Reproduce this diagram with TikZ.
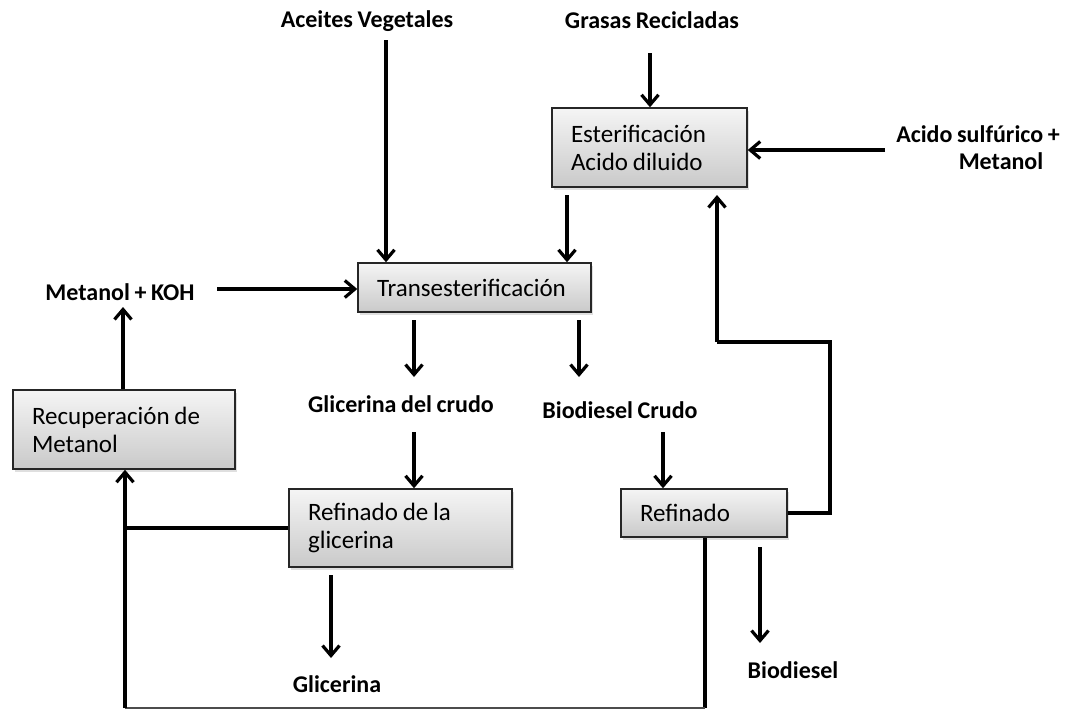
\documentclass[tikz,border=0pt]{standalone}
\usepackage{fontspec}
\setmainfont{Carlito}[WordSpace=0.85]
\usetikzlibrary{shadows,arrows.meta}
\begin{document}
\begin{tikzpicture}[x=1pt,y=-1pt,
  proc/.style={draw=black!85, line width=1.5pt, rectangle,
    top color=gray!8, bottom color=gray!42,
    drop shadow={shadow xshift=2pt, shadow yshift=-3pt, opacity=0.25},
    inner xsep=19pt, inner ysep=0pt, align=flush left,
    font=\fontsize{25}{28}\selectfont},
  lbl/.style={font=\fontsize{24}{28}\selectfont\bfseries, inner sep=0pt},
  flow/.style={line width=3.2pt, -{Straight Barb[length=10pt,width=17pt]}},
  pipe/.style={line width=3.2pt}
]
\useasboundingbox (0,0) rectangle (1075,710);

% process boxes
\node[proc, minimum width=195pt, text width=157pt, minimum height=79pt] (est) at (649.5,147.5) {Esterificación\\Acido diluido};
\node[proc, minimum width=233pt, text width=195pt, minimum height=49pt] (tra) at (474.5,287.5) {Transesterificación};
\node[proc, minimum width=222pt, text width=184pt, minimum height=79pt] (rec) at (124,429.5) {Recuperación de\\Metanol};
\node[proc, minimum width=223pt, text width=185pt, minimum height=78pt] (rgl) at (400.5,528) {Refinado de la\\glicerina};
\node[proc, minimum width=166pt, text width=128pt, minimum height=48pt] (ref) at (704,513) {Refinado};

% stream labels
\node[lbl] (av) at (367,21) {Aceites Vegetales};
\node[lbl] (gr) at (652,20) {Grasas Recicladas};
\node[lbl] (as1) at (978,134) {Acido sulfúrico +};
\node[lbl] (as2) at (1001,161) {Metanol};
\node[lbl] (mk) at (120,292) {Metanol + KOH};
\node[lbl] (gc) at (401,404) {Glicerina del crudo};
\node[lbl] (bc) at (620,410) {Biodiesel Crudo};
\node[lbl] (gl) at (337,684) {Glicerina};
\node[lbl] (bd) at (793,670) {Biodiesel};

% free ends of the connectors
\coordinate (avs) at (386,40);
\coordinate (grs) at (650,53);
\coordinate (ass) at (885,150);
\coordinate (mks) at (217,289);
\coordinate (ests) at (567,195);
\coordinate (esti) at (717,195);
\coordinate (tgs) at (414,320);
\coordinate (tge) at (414,377);
\coordinate (tbs) at (579,320);
\coordinate (tbe) at (579,377);
\coordinate (gcs) at (414,432);
\coordinate (bcs) at (663,432);
\coordinate (rgs) at (331,575);
\coordinate (rge) at (331,658);
\coordinate (rbs) at (760,547);
\coordinate (rbe) at (760,643);
\coordinate (rke) at (123,307);
\coordinate (bl) at (125,708);
\coordinate (br) at (705,708);
\coordinate (rr) at (830,513);
\coordinate (rt) at (830,342);
\coordinate (rl) at (717,342);

% feeds
\draw[flow] (avs) -- (avs |- tra.north);
\draw[flow] (grs) -- (grs |- est.north);
\draw[flow] (ass) -- (ass -| est.east);
\draw[flow] (mks) -- (mks -| tra.west);
\draw[flow] (ests) -- (ests |- tra.north);

% transesterification products
\draw[flow] (tgs) -- (tge);
\draw[flow] (tbs) -- (tbe);
\draw[flow] (gcs) -- (gcs |- rgl.north);
\draw[flow] (bcs) -- (bcs |- ref.north);

% refining outputs
\draw[flow] (rgs) -- (rge);
\draw[flow] (rbs) -- (rbe);

% methanol recovery
\draw[flow] (rke |- rec.north) -- (rke);
\draw[pipe] (rgl.west) -- (rgl.west -| bl);
\draw[pipe] (ref.south -| br) -- (br);
\draw[line width=1.4pt, black!70] (br) -- (bl);
\draw[flow] (bl) -- (bl |- rec.south);

% recycle from refining to esterification
\draw[pipe] (ref.east) -- (rr) -- (rt) -- (rl);
\draw[flow] (rl) -- (esti);
\end{tikzpicture}
\end{document}
